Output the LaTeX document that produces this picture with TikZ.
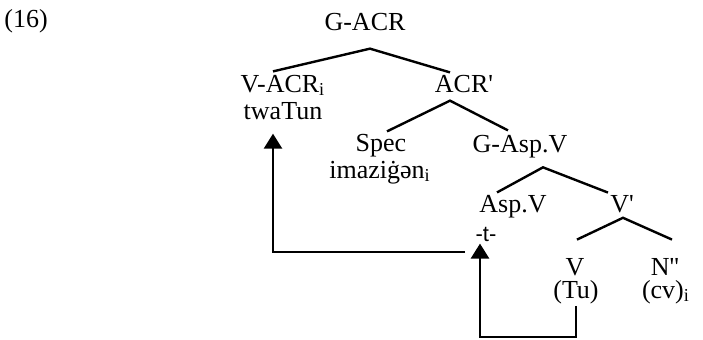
\documentclass[tikz,border=0pt]{standalone}
\usepackage{fontspec}
\setmainfont{Liberation Serif}
\newfontfamily\tfont{Liberation Sans}
\usetikzlibrary{arrows.meta}
\tikzset{
  lab/.style={inner sep=0pt, anchor=base, font=\fontsize{13}{15}\selectfont},
  br/.style={line width=1.2pt},
  mv/.style={line width=1.3pt, -{Triangle[length=7.5pt,width=9pt]}}
}
\begin{document}
\begin{tikzpicture}[x=0.5pt,y=-0.5pt]
  \useasboundingbox (0,0) rectangle (703,339);
  \node[lab,anchor=base west] (ex) at(4,27) {(16)};
  % tree
  \node[lab] (gacr) at(365,30) {G-ACR};
  \node[lab] (vacr) at(283,92) {V-ACR\textsubscript{i}};
  \node[lab] (twatun) at(283,119) {twaTun};
  \node[lab] (acr) at(464,92) {ACR\textquotesingle};
  \node[lab] (spec) at(381,151) {Spec};
  \node[lab] (imaz) at(380,178) {imaziġən\textsubscript{i}};
  \node[lab] (gasp) at(520,152) {G-Asp.V};
  \node[lab] (asp) at(513,212) {Asp.V};
  \node[lab,font=\tfont\fontsize{11}{12}\selectfont] (tt) at(486,241) {-t-};
  \node[lab] (vbar) at(622,212) {V\textquotesingle};
  \node[lab] (v) at(575,275) {V};
  \node[lab] (tu) at(576,298) {(Tu)};
  \node[lab] (n) at(665,275) {N\textquotesingle\textquotesingle};
  \node[lab] (cv) at(666,298) {(cv)\textsubscript{i}};
  \draw[br] ([xshift=-5pt,yshift=1.5pt]vacr.north) -- ([xshift=2.5pt,yshift=-9pt]gacr.south)
            -- ([xshift=-7pt,yshift=1pt]acr.north);
  \draw[br] ([xshift=3pt,yshift=1pt]spec.north) -- ([xshift=-7pt,yshift=-4pt]acr.south)
            -- ([xshift=-6pt,yshift=2pt]gasp.north);
  \draw[br] ([xshift=-8pt,yshift=1pt]asp.north) -- ([xshift=11.5pt,yshift=-4.7pt]gasp.south)
            -- ([xshift=-7pt,yshift=1pt]vbar.north);
  \draw[br] ([xshift=1pt,yshift=9pt]v.north) -- ([xshift=.5pt,yshift=-2.5pt]vbar.south)
            -- ([xshift=3.5pt,yshift=9pt]n.north);
  % movement
  \coordinate (bot) at(480,337);
  \coordinate (tstart) at(465,252);
  \draw[mv] ([yshift=-1pt]tu.south) |- (bot) -| ([xshift=-3pt,yshift=-1pt]tt.south);
  \draw[mv] (tstart) -| ([xshift=-5pt,yshift=-7pt]twatun.south);
\end{tikzpicture}
\end{document}
